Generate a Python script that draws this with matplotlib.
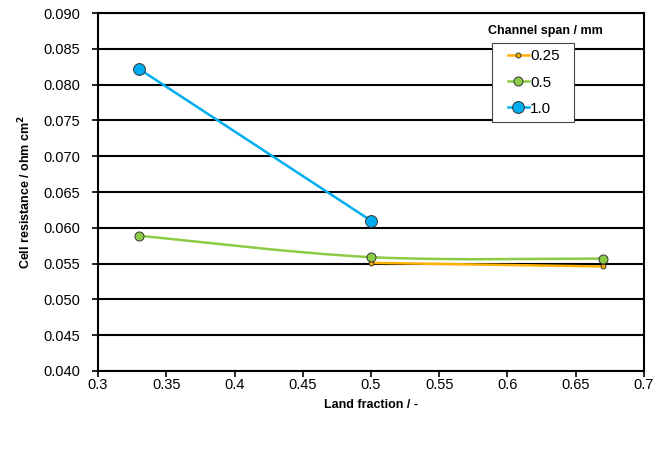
import numpy as np
import matplotlib
matplotlib.use("Agg")
import matplotlib.pyplot as plt
from matplotlib.path import Path
from matplotlib.patches import PathPatch, Rectangle

plt.rcParams['font.family'] = ['Liberation Sans', 'DejaVu Sans']

# data
land_fraction = [0.33, 0.5, 0.67]
res_025 = [None, 0.0551, 0.0546]
res_05 = [0.0589, 0.0559, 0.0557]
res_10 = [0.0822, 0.0610, None]

series = [
    ("0.25", res_025, "#FFB000", 3.5),
    ("0.5", res_05, "#8CCB45", 6.5),
    ("1.0", res_10, "#00AEEF", 8.5),
]


def smooth_path(xs, ys):
    # Catmull-Rom style bezier through the points, like a smoothed line
    pts = np.column_stack([xs, ys]).astype(float)
    verts = [pts[0]]
    codes = [Path.MOVETO]
    n = len(pts)
    for i in range(n - 1):
        p0 = pts[i - 1] if i > 0 else pts[i]
        p1 = pts[i]
        p2 = pts[i + 1]
        p3 = pts[i + 2] if i + 2 < n else pts[i + 1]
        c1 = p1 + (p2 - p0) / 6.0
        c2 = p2 - (p3 - p1) / 6.0
        verts += [c1, c2, p2]
        codes += [Path.CURVE4] * 3
    return Path(verts, codes)


fig = plt.figure(figsize=(6.65, 4.69), dpi=100)
ax = fig.add_axes([98 / 665, 1 - 371 / 469, 546 / 665, 358 / 469])

for name, vals, color, ms in series:
    xs = [x for x, v in zip(land_fraction, vals) if v is not None]
    ys = [v for v in vals if v is not None]
    if len(ys) > 2:
        ax.add_patch(PathPatch(smooth_path(xs, ys), fill=False,
                               edgecolor=color, lw=1.8, zorder=3))
        ax.plot(xs, ys, 'o', color=color, ms=ms, mec="#333333", mew=0.7,
                zorder=4)
        ax.plot([], [], '-o', color=color, ms=ms, mec="#333333", mew=0.7,
                lw=1.8, label=name)
    else:
        ax.plot(xs, ys, '-o', color=color, ms=ms, mec="#333333", mew=0.7,
                lw=1.8, label=name, zorder=4)

ax.set_xlim(0.3, 0.7)
ax.set_ylim(0.040, 0.090)
ax.set_xticks(np.arange(0.3, 0.701, 0.05))
ax.set_xticklabels(["0.3", "0.35", "0.4", "0.45", "0.5", "0.55", "0.6",
                    "0.65", "0.7"])
ax.set_yticks(np.arange(0.040, 0.0901, 0.005))
ax.set_yticklabels(["%.3f" % v for v in np.arange(0.040, 0.0901, 0.005)])
ax.yaxis.grid(True, color="black", lw=1.5)
ax.set_axisbelow(True)
for s in ax.spines.values():
    s.set_color("black")
    s.set_linewidth(1.5)
ax.tick_params(direction="out", length=4, width=1.2, labelsize=10.5,
               colors="black")
ax.tick_params(axis="y", pad=9)
ax.tick_params(axis="x", pad=1)

ax.set_xlabel("Land fraction / -", fontsize=9, fontweight="bold", labelpad=5)
ax.set_ylabel("Cell resistance / ohm cm$^\\mathbf{2}$", fontsize=9,
              fontweight="bold", labelpad=7)

# legend box drawn separately so the padding can differ per side
box = Rectangle((492 / 665, 1 - 122 / 469), 82 / 665, 79 / 469,
                transform=fig.transFigure, facecolor="white",
                edgecolor="#444444", lw=0.8, zorder=6, clip_on=False)
ax.add_artist(box)
leg = ax.legend(loc="upper left", bbox_to_anchor=(0.739, 0.916),
                borderaxespad=0, frameon=False, fontsize=11,
                handlelength=1.35, handletextpad=0.1, borderpad=0.42,
                labelspacing=0.79)
leg.set_zorder(7)
fig.text(545 / 665, 1 - 31 / 469, "Channel span / mm", ha="center",
         va="center", fontsize=9, fontweight="bold")

fig.savefig("out.png", dpi=100)
